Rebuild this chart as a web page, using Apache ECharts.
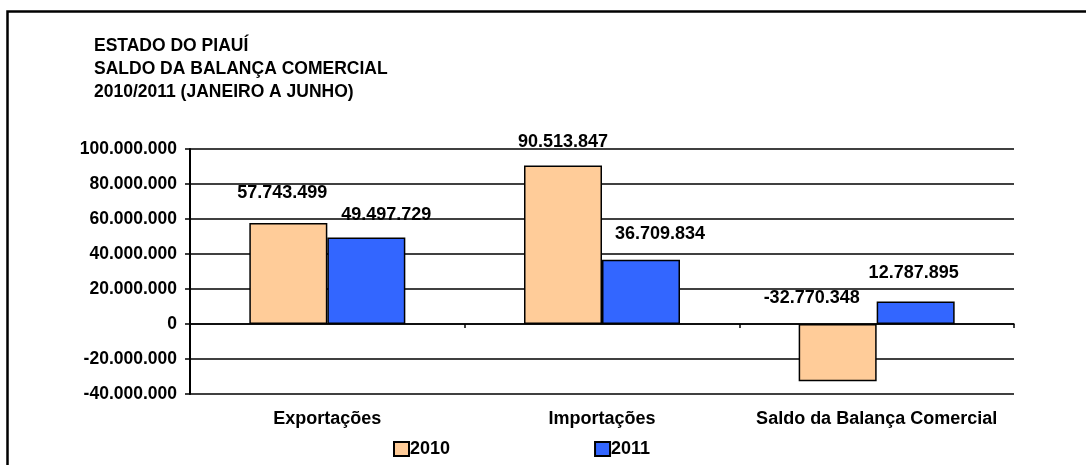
<!DOCTYPE html>
<html>
<head>
<meta charset="utf-8">
<script src="https://cdn.jsdelivr.net/npm/echarts@6/dist/echarts.min.js"></script>
<style>
html,body{margin:0;padding:0;background:#fff;}
#chart{width:1086px;height:465px;}
</style>
</head>
<body>
<div id="chart"></div>
<script>
const titleLines = ['ESTADO DO PIAUÍ', 'SALDO DA BALANÇA COMERCIAL', '2010/2011 (JANEIRO A JUNHO)'];
const categories = ['Exportações', 'Importações', 'Saldo da Balança Comercial'];
const seriesNames = ['2010', '2011'];
const values2010 = [57743499, 90513847, -32770348];
const values2011 = [49497729, 36709834, 12787895];
const yTicks = { min: -40000000, max: 100000000, interval: 20000000 };

function fmt(v) {
  const s = Math.abs(Math.round(v)).toString().replace(/\B(?=(\d{3})+(?!\d))/g, '.');
  return (v < 0 ? '-' : '') + s;
}

const FONT = "'Liberation Sans', Arial, sans-serif";
// label nudges (style only), per series / category
const nudge2010 = [[-6, -21], [0, -15], [-26, -17]];
const nudge2011 = [[20, -13], [19, -17], [-2, -20]];

function buildData(vals, nudges) {
  return vals.map((v, i) => ({ value: v, label: { offset: nudges[i] } }));
}

const chart = echarts.init(document.getElementById('chart'), null, { renderer: 'canvas' });
const labelStyle = {
  show: true, position: 'top', distance: 0,
  formatter: p => fmt(p.value),
  color: '#000', fontWeight: 'bold', fontSize: 18, fontFamily: FONT
};
chart.setOption({
  animation: false,
  backgroundColor: '#fff',
  textStyle: { fontFamily: FONT },
  title: {
    text: titleLines.join('\n'),
    left: 89, top: 30,
    textStyle: { fontSize: 17.5, fontWeight: 'bold', color: '#000', lineHeight: 23, fontFamily: FONT }
  },
  graphic: [{
    type: 'rect', silent: true,
    shape: { x: 7.5, y: 11.5, width: 2000, height: 2000 },
    style: { fill: null, stroke: '#000', lineWidth: 2.5 }
  }],
  legend: {
    data: seriesNames,
    left: 388, top: 435,
    icon: 'rect',
    itemWidth: 15, itemHeight: 14, itemGap: 144,
    textStyle: { fontSize: 18, fontWeight: 'bold', color: '#000', fontFamily: FONT, padding: [0, 0, 0, -4] }
  },
  grid: { left: 190, right: 72, top: 149, bottom: 71, containLabel: false, outerBoundsMode: 'none' },
  xAxis: [{
    type: 'category', data: categories,
    axisLine: { onZero: true, lineStyle: { color: '#000', width: 1.5 } },
    axisTick: { show: true, length: 4, inside: false, lineStyle: { color: '#000', width: 1.5 } },
    axisLabel: { show: false },
    splitLine: { show: false }
  }, {
    type: 'category', data: categories, position: 'bottom',
    axisLine: { show: false, onZero: false },
    axisTick: { show: false },
    axisLabel: { show: true, interval: 0, hideOverlap: false, margin: 16, color: '#000', fontWeight: 'bold', fontSize: 18, fontFamily: FONT },
    splitLine: { show: false }
  }],
  yAxis: {
    type: 'value', min: yTicks.min, max: yTicks.max, interval: yTicks.interval,
    axisLine: { show: true, lineStyle: { color: '#000', width: 2 } },
    axisTick: { show: true, length: 5, lineStyle: { color: '#000', width: 1.5 } },
    axisLabel: { margin: 13, formatter: v => fmt(v), color: '#000', fontWeight: 'bold', fontSize: 17.5, fontFamily: FONT },
    splitLine: { show: true, lineStyle: { color: '#000', width: 1.5 } }
  },
  series: [
    {
      name: seriesNames[0], type: 'bar', xAxisIndex: 0, data: buildData(values2010, nudge2010),
      barWidth: 78, barGap: '0%',
      itemStyle: { color: '#FFCC99', borderColor: '#000', borderWidth: 1.5 },
      label: labelStyle
    },
    {
      name: seriesNames[1], type: 'bar', xAxisIndex: 0, data: buildData(values2011, nudge2011),
      barWidth: 78, barGap: '0%',
      itemStyle: { color: '#3366FF', borderColor: '#000', borderWidth: 1.5 },
      label: labelStyle
    }
  ]
});
</script>
</body>
</html>
